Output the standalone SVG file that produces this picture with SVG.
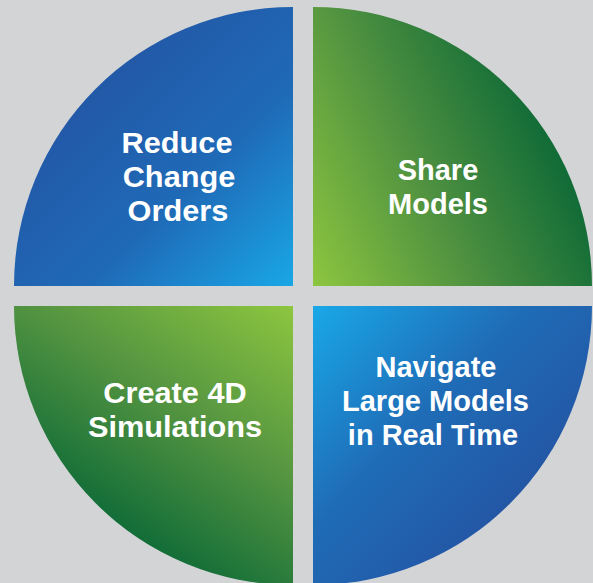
<svg xmlns="http://www.w3.org/2000/svg" width="593" height="583" viewBox="0 0 593 583">
<defs>
<linearGradient id="gTL" gradientUnits="userSpaceOnUse" x1="70" y1="60" x2="293" y2="286">
<stop offset="0" stop-color="#2354a3"/>
<stop offset="0.55" stop-color="#1f6ab7"/>
<stop offset="1" stop-color="#19a7e6"/>
</linearGradient>
<linearGradient id="gTR" gradientUnits="userSpaceOnUse" x1="313" y1="286" x2="575" y2="160">
<stop offset="0" stop-color="#8dc63f"/>
<stop offset="0.5" stop-color="#4f9140"/>
<stop offset="1" stop-color="#0b6836"/>
</linearGradient>
<linearGradient id="gBL" gradientUnits="userSpaceOnUse" x1="293" y1="306" x2="130" y2="545">
<stop offset="0" stop-color="#8dc63f"/>
<stop offset="0.5" stop-color="#559541"/>
<stop offset="1" stop-color="#0d6a37"/>
</linearGradient>
<linearGradient id="gBR" gradientUnits="userSpaceOnUse" x1="313" y1="306" x2="535" y2="520">
<stop offset="0" stop-color="#19a8e8"/>
<stop offset="0.5" stop-color="#1f6cb6"/>
<stop offset="1" stop-color="#2452a2"/>
</linearGradient>
</defs>
<style>
.t{font-family:"Liberation Sans",Arial,sans-serif;font-weight:bold;font-size:29px;fill:#ffffff;text-anchor:middle}
</style>
<rect x="0" y="0" width="593" height="583" fill="#d3d4d6"/>
<g id="node-reduce">
<path d="M293,286 L14,286 A279,279 0 0 1 293,7 Z" fill="url(#gTL)"/>
<g transform="scale(1.06,1)">
<text class="t" x="167" y="153">Reduce</text>
<text class="t" x="168.9" y="187">Change</text>
<text class="t" x="167.9" y="221">Orders</text>
</g>
</g>
<g id="node-share">
<path d="M313,286 L313,7 A279,279 0 0 1 592,286 Z" fill="url(#gTR)"/>
<text class="t" x="438" y="180">Share</text>
<text class="t" x="438" y="214">Models</text>
</g>
<g id="node-create">
<path d="M293,306 L293,585 A279,279 0 0 1 14,306 Z" fill="url(#gBL)"/>
<g transform="scale(1.06,1)">
<text class="t" x="165.1" y="403">Create 4D</text>
<text class="t" x="165.1" y="437">Simulations</text>
</g>
</g>
<g id="node-navigate">
<path d="M313,306 L592,306 A279,279 0 0 1 313,585 Z" fill="url(#gBR)"/>
<text class="t" x="436" y="377">Navigate</text>
<text class="t" x="435.5" y="411">Large Models</text>
<text class="t" x="433" y="445">in Real Time</text>
</g>
<g id="connectors"></g>
</svg>
